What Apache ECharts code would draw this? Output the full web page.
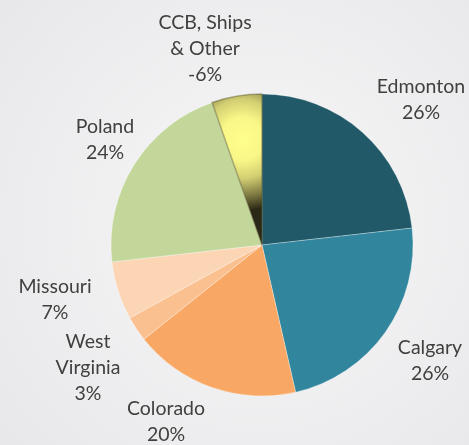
<!DOCTYPE html>
<html>
<head>
<meta charset="utf-8">
<script src="https://cdn.jsdelivr.net/npm/echarts@6/dist/echarts.min.js"></script>
<style>
  html, body { margin: 0; padding: 0; }
  #main { width: 469px; height: 445px; }
</style>
</head>
<body>
<div id="main"></div>
<script>
// chart data
const categories = ['Edmonton', 'Calgary', 'Colorado', 'West Virginia', 'Missouri', 'Poland', 'CCB, Ships & Other'];
const values = [26, 26, 20, 3, 7, 24, 6];
const shareLabels = ['26%', '26%', '20%', '3%', '7%', '24%', '-6%'];
const labelNames = ['Edmonton', 'Calgary', 'Colorado', 'West\nVirginia', 'Missouri', 'Poland', 'CCB, Ships\n& Other'];

// styling
const colors = ['#215968', '#31859c', '#f8a864', '#fac090', '#fcd5b5', '#c4d79b', null];
const labelPos = [[421, 100], [430, 361], [166, 422], [88, 368], [55, 300], [105, 140], [205, 49]];

const ccbFill = {
  type: 'radial', x: 0.6, y: 0.3, r: 1.4,
  colorStops: [
    { offset: 0, color: '#ffff8c' },
    { offset: 0.3, color: '#f9f787' },
    { offset: 0.55, color: '#d2ce72' },
    { offset: 0.8, color: '#7a7640' },
    { offset: 1, color: '#2a2816' }
  ]
};

const chart = echarts.init(document.getElementById('main'));

chart.setOption({
  backgroundColor: {
    type: 'radial', x: 0.55, y: 0.5, r: 0.75,
    colorStops: [
      { offset: 0, color: '#f7f7f8' },
      { offset: 1, color: '#e8e8ea' }
    ]
  },
  animation: false,
  series: [{
    type: 'pie',
    center: [262, 245],
    radius: 151,
    startAngle: 90,
    clockwise: true,
    avoidLabelOverlap: false,
    itemStyle: { borderColor: 'rgba(255,255,255,0.5)', borderWidth: 0.6 },
    label: {
      show: true,
      position: 'outside',
      fontFamily: 'Lato',
      fontSize: 19.5,
      lineHeight: 26,
      color: '#404040',
      align: 'center',
      formatter: p => labelNames[p.dataIndex] + '\n' + shareLabels[p.dataIndex]
    },
    labelLine: { show: false },
    labelLayout: p => ({
      x: labelPos[p.dataIndex][0],
      y: labelPos[p.dataIndex][1],
      align: 'center',
      verticalAlign: 'middle'
    }),
    data: categories.map((name, i) => ({
      name: name,
      value: values[i],
      itemStyle: colors[i]
        ? { color: colors[i] }
        : { color: ccbFill, borderColor: 'rgba(90,88,45,0.45)', borderWidth: 1.5 }
    }))
  }]
});
</script>
</body>
</html>
